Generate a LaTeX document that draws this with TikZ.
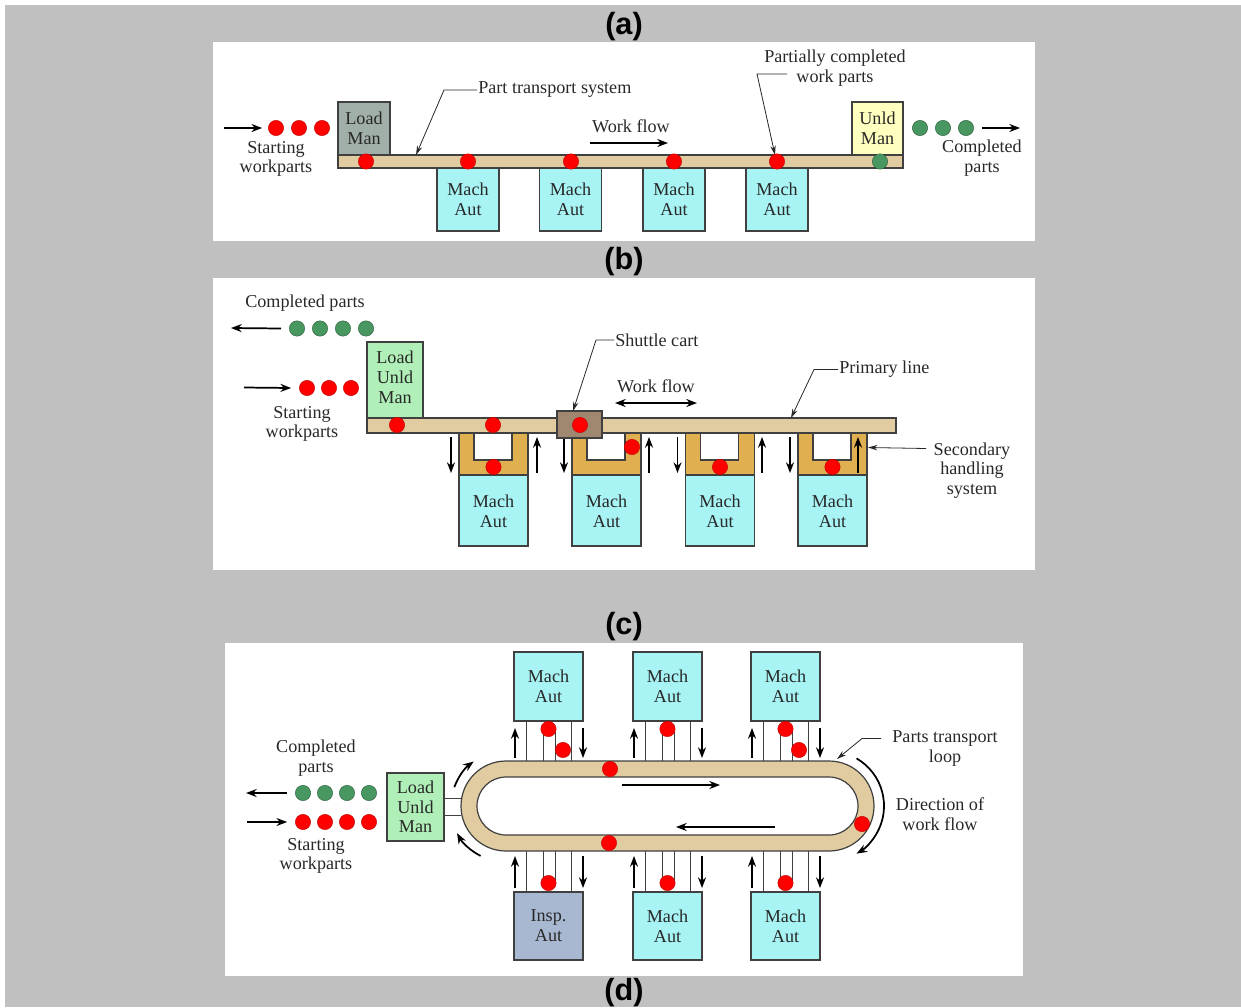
\documentclass[tikz,border=0pt]{standalone}
\usepackage{fontspec}
\setmainfont{Liberation Serif}
\newfontfamily\tagfont{Liberation Sans}
\usetikzlibrary{arrows.meta}

\definecolor{bggray}{RGB}{192,192,192}
\definecolor{track}{RGB}{224,204,160}
\definecolor{secondary}{RGB}{224,176,80}
\definecolor{machcyan}{RGB}{168,244,244}
\definecolor{loadgray}{RGB}{160,176,168}
\definecolor{unldyellow}{RGB}{255,255,192}
\definecolor{loadgreen}{RGB}{176,240,184}
\definecolor{inspblue}{RGB}{168,184,208}
\definecolor{cartbrown}{RGB}{160,136,112}
\definecolor{partgreen}{RGB}{72,150,96}
\definecolor{edge}{RGB}{64,64,64}
\definecolor{ink}{RGB}{40,40,40}

\tikzset{
  txt/.style={font=\fontsize{13.6}{14.8}\selectfont, align=center, inner sep=0.75pt, text=ink},
  tag/.style={font=\tagfont\bfseries\fontsize{23}{23}\selectfont, inner sep=0pt},
  unit/.style={draw=edge, line width=0.9pt},
  lane/.style={draw=edge, line width=0.7pt},
  redpart/.style={circle, fill=red, draw=red!75!black, line width=0.3pt, minimum size=11.5pt, inner sep=0pt},
  greenpart/.style={circle, fill=partgreen, draw=partgreen!60!black, line width=0.3pt, minimum size=11.5pt, inner sep=0pt},
  flow/.style={-{Stealth[length=8pt,width=6pt]}, line width=1.3pt},
  twoflow/.style={{Stealth[length=8pt,width=6pt]}-{Stealth[length=8pt,width=6pt]}, line width=1.3pt},
  leader/.style={-{Stealth[length=7pt,width=4pt]}, line width=0.6pt, draw=ink},
}

\begin{document}
\begin{tikzpicture}[x=0.75pt,y=0.75pt,yscale=-1,xscale=1]
\useasboundingbox (0,0) rectangle (1241,1007);
\fill[white] (0,0) rectangle (1241,1007);
\fill[bggray] (5,5) rectangle (1241,1007);

%%% (a) in-line system
\fill[white] (213,42) rectangle (1035,241);
\node[tag] (tagA) at (624,27) {(a)};
% transport system and stations
\draw[unit, fill=track] (338,155) rectangle (903,168);
\draw[unit, fill=loadgray] (338,102) rectangle (390,155);
\node[txt] (aLoad) at (364,128.5) {Load\\Man};
\draw[unit, fill=unldyellow] (852,102) rectangle (903,155);
\node[txt] (aUnld) at (877.5,128.5) {Unld\\Man};
\foreach \x [count=\i] in {468,570.5,674,777}{
  \draw[unit, fill=machcyan] (\x-31,168) rectangle (\x+31,231);
  \node[txt] (aMach\i) at (\x,199) {Mach\\Aut};
}
% parts
\foreach \x [count=\i] in {366,468,571,674,777}
  \node[redpart] (aOn\i) at (\x,161.5) {};
\node[greenpart] (aOff) at (880,161.5) {};
\foreach \x [count=\i] in {276,299,322}
  \node[redpart] (aIn\i) at (\x,128) {};
\foreach \x [count=\i] in {920,943,966}
  \node[greenpart] (aOut\i) at (\x,128) {};
\coordinate (aInTail) at (224,128);
\coordinate (aOutHead) at (1020,128);
\draw[flow] (aInTail) -- ([xshift=-4.5pt]aIn1.west);
\draw[flow] ([xshift=6pt]aOut3.east) -- (aOutHead);
% labels
\node[txt] (aStart) at (276,159) {Starting\\workparts};
\node[txt] (aDone) at (982,158.5) {Completed\\parts};
\node[txt, anchor=west] (aPTS) at (477,90) {Part transport system};
\coordinate (aPTSend) at (416,155);
\draw[leader] (aPTS.west) -- ++(-33,0) -- (aPTSend);
\node[txt] (aFlow) at (631,126) {Work flow};
\coordinate (aFlowL) at (590,143);
\coordinate (aFlowR) at (668,143);
\draw[flow] (aFlowL) -- (aFlowR);
\node[txt] (aPart) at (835,68) {Partially completed\\work parts};
\coordinate (aPartend) at (775,155);
\draw[leader] (787,74) -- (757,74) -- (aPartend);

%%% (b) primary line with secondary handling
\fill[white] (213,278) rectangle (1035,570);
\node[tag] (tagB) at (624,262) {(b)};
\foreach \x/\up [count=\i] in {459/537,572/649,685.5/762,798/858}{
  \draw[unit, fill=secondary] (\x,433) rectangle (\x+69,475);
  \draw[unit, fill=white] (\x+15,433) rectangle (\x+53,460);
  \draw[unit, fill=machcyan] (\x,475) rectangle (\x+69,546);
  \node[txt] (bMach\i) at (\x+34.5,511.5) {Mach\\Aut};
  \draw[flow] (\x-8,437) -- (\x-8,473);
  \draw[flow] (\up,473) -- (\up,437);
}
\draw[unit, fill=track] (367,418) rectangle (896,433);
\draw[unit, fill=loadgreen] (367,342) rectangle (423,418);
\node[txt] (bLoad) at (395,377.5) {Load\\Unld\\Man};
\draw[unit, fill=cartbrown] (557,411) rectangle (602,438);
% parts
\node[redpart] (bOn1) at (397,425) {};
\node[redpart] (bOn2) at (493,425) {};
\node[redpart] (bCart) at (580,425) {};
\node[redpart] (bSec1) at (493.5,467) {};
\node[redpart] (bSec2) at (632,447) {};
\node[redpart] (bSec3) at (720,467) {};
\node[redpart] (bSec4) at (832.5,467) {};
\foreach \x [count=\i] in {297,320,343,366}
  \node[greenpart] (bOut\i) at (\x,328.5) {};
\foreach \x [count=\i] in {307,329,351}
  \node[redpart] (bIn\i) at (\x,388) {};
\coordinate (bOutHead) at (231,328);
\coordinate (bInTail) at (244,387.5);
\draw[flow] ([xshift=-6pt]bOut1.west) -- (bOutHead);
\draw[flow] (bInTail) -- ([xshift=-6pt]bIn1.west);
% labels
\node[txt] (bDone) at (305,303) {Completed parts};
\node[txt] (bStart) at (302,424) {Starting\\workparts};
\node[txt, anchor=west] (bCartLbl) at (614,340) {Shuttle cart};
\coordinate (bCartend) at (573,411);
\draw[leader] (bCartLbl.west) -- ++(-18,0) -- (bCartend);
\node[txt] (bFlow) at (656,386) {Work flow};
\coordinate (bFlowL) at (615,403);
\coordinate (bFlowR) at (697,403);
\draw[twoflow] (bFlowL) -- (bFlowR);
\node[txt, anchor=west] (bPrim) at (838,369.5) {Primary line};
\coordinate (bPrimend) at (791,418);
\draw[leader] (bPrim.west) -- ++(-24,0) -- (bPrimend);
\node[txt] (bSecLbl) at (972,470.5) {Secondary\\handling\\system};
\coordinate (bSecend) at (868,447.5);
\draw[leader] (926,448.5) -- (bSecend);

%%% (c) closed loop system
\fill[white] (225,643) rectangle (1023,976);
\node[tag] (tagC) at (624,627) {(c)};
\node[tag] (tagD) at (624,993) {(d)};
% stations above and below the loop
\foreach \x/\name [count=\i] in {514/Mach,633/Mach,751/Mach}{
  \draw[lane] (\x+12,721) -- (\x+12,761) (\x+57,721) -- (\x+57,761);
  \draw[lane] (\x+29,761) -- (\x+29,729) -- (\x+41,729) -- (\x+41,761);
  \draw[unit, fill=machcyan] (\x,652) rectangle (\x+69,721);
  \node[txt] (cTop\i) at (\x+34.5,686) {Mach\\Aut};
  \node[redpart] (cTopPart\i) at (\x+34.5,729) {};
  \draw[flow] (\x+1,758) -- (\x+1,728);
  \draw[flow] (\x+69,728) -- (\x+69,758);
}
\foreach \x/\fillc/\name [count=\i] in {514/inspblue/Insp.,633/machcyan/Mach,751/machcyan/Mach}{
  \draw[lane] (\x+12,851) -- (\x+12,892) (\x+57,851) -- (\x+57,892);
  \draw[lane] (\x+29,851) -- (\x+29,883) -- (\x+41,883) -- (\x+41,851);
  \draw[unit, fill=\fillc] (\x,892) rectangle (\x+69,960);
  \node[txt] (cBot\i) at (\x+34.5,926) {\name\\Aut};
  \node[redpart] (cBotPart\i) at (\x+34.5,883) {};
  \draw[flow] (\x+1,888) -- (\x+1,856);
  \draw[flow] (\x+69,856) -- (\x+69,888);
}
\node[redpart] (cWait1) at (563,750) {};
\node[redpart] (cWait3) at (799,750) {};
% transport loop
\coordinate (cLoopL) at (506,806);
\coordinate (cLoopR) at (829,806);
\draw[unit, fill=track, even odd rule]
  (506,761) -- (829,761) arc[start angle=-90, end angle=90, radius=45]
  -- (506,851) arc[start angle=90, end angle=270, radius=45] -- cycle
  (506,777) -- (829,777) arc[start angle=-90, end angle=90, radius=29]
  -- (506,835) arc[start angle=90, end angle=270, radius=29] -- cycle;
\node[redpart] (cLoop1) at (610,769) {};
\node[redpart] (cLoop2) at (609,843) {};
\node[redpart] (cLoop3) at (862,824) {};
\coordinate (cTopL) at (622,785);
\coordinate (cTopR) at (720,785);
\coordinate (cBotR) at (775,827);
\coordinate (cBotL) at (676,827);
\draw[flow] (cTopL) -- (cTopR);
\draw[flow] (cBotR) -- (cBotL);
\draw[flow] ([shift={(-160:55)}]cLoopL) arc[start angle=-160, end angle=-126, radius=55];
\draw[flow] ([shift={(117:56)}]cLoopL) arc[start angle=117, end angle=151, radius=56];
\draw[flow] ([shift={(-60:55)}]cLoopR) arc[start angle=-60, end angle=60, radius=55];
% load/unload station
\draw[unit, fill=loadgreen] (387,773) rectangle (444,841);
\node[txt] (cLoad) at (415.5,807) {Load\\Unld\\Man};
\draw[lane] (444,798) -- (461,798) (444,815) -- (461,815);
\foreach \x [count=\i] in {303,325,347,369}{
  \node[greenpart] (cOut\i) at (\x,793) {};
  \node[redpart] (cIn\i) at (\x,822) {};
}
\coordinate (cOutHead) at (246,793);
\coordinate (cInTail) at (247,822);
\draw[flow] ([xshift=-6pt]cOut1.west) -- (cOutHead);
\draw[flow] (cInTail) -- ([xshift=-6pt]cIn1.west);
% labels
\node[txt] (cDone) at (316,758) {Completed\\parts};
\node[txt] (cStart) at (316,856) {Starting\\workparts};
\node[txt] (cLoopLbl) at (945,748.5) {Parts transport\\loop};
\coordinate (cLoopend) at (837,759);
\draw[leader] (881,738.5) -- (862,738.5) -- (cLoopend);
\node[txt] (cDir) at (940,814.5) {Direction of\\work flow};

\end{tikzpicture}
\end{document}
